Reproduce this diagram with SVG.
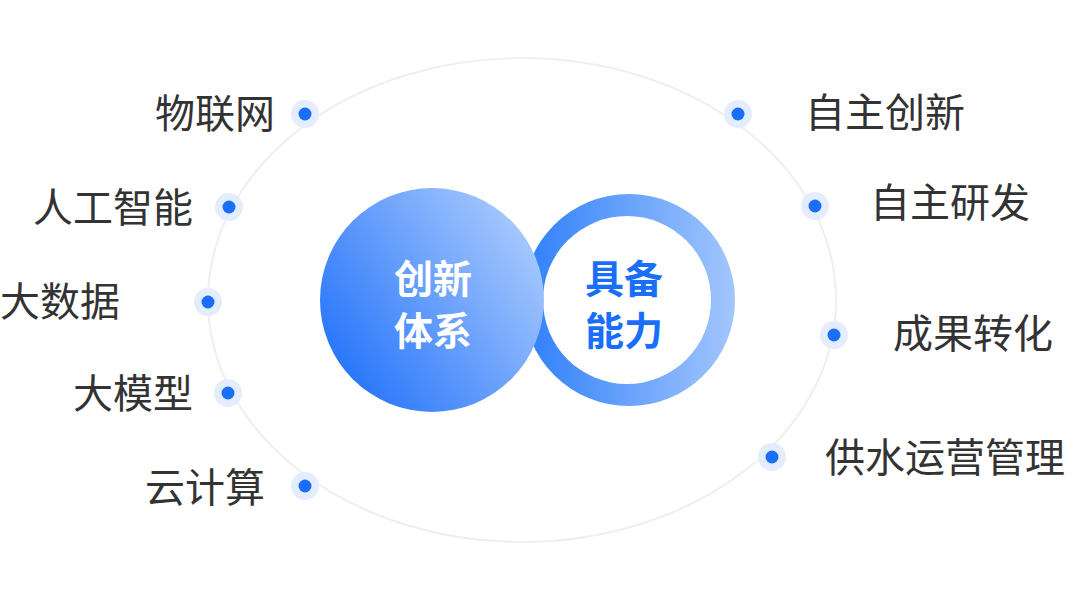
<svg xmlns="http://www.w3.org/2000/svg" width="1080" height="596" viewBox="0 0 1080 596">
<style>
.lbl{font-family:"Noto Sans CJK SC",sans-serif;font-size:40px;fill:#333;dominant-baseline:central}
.ctr{font-family:"Noto Sans CJK SC",sans-serif;font-size:39px;font-weight:bold;text-anchor:middle;dominant-baseline:central}
.halo{fill:#e3edfd}
.dot{fill:#1a6ffa}
</style>
<defs>
<linearGradient id="gL" x1="0" y1="1" x2="1" y2="0.3"><stop offset="0" stop-color="#1368fa"/><stop offset="1" stop-color="#a6c8fd"/></linearGradient>
<linearGradient id="gR" x1="0" y1="0" x2="1" y2="0"><stop offset="0" stop-color="#2e7ffa"/><stop offset="1" stop-color="#a3c6fd"/></linearGradient>
<g id="d"><circle r="14" class="halo"/><circle r="6.5" class="dot"/></g>
</defs>
<rect width="1080" height="596" fill="#fff"/>
<g id="connectors"><ellipse cx="522" cy="300" rx="314" ry="242" fill="none" stroke="#efefef" stroke-width="2"/></g>
<g id="ring"><circle cx="629" cy="300" r="106" fill="url(#gR)"/><circle cx="627" cy="300" r="84" fill="#fff"/>
<text class="ctr" x="624" y="276" fill="#1a6ffa">具备</text><text class="ctr" x="624" y="328" fill="#1a6ffa">能力</text></g>
<g id="core"><circle cx="432" cy="300" r="112" fill="url(#gL)"/>
<text class="ctr" x="433" y="276" fill="#fff">创新</text><text class="ctr" x="433" y="328" fill="#fff">体系</text></g>
<g id="n1"><use href="#d" x="305" y="114"/><text class="lbl" x="275" y="111" text-anchor="end">物联网</text></g>
<g id="n2"><use href="#d" x="229" y="207"/><text class="lbl" x="193" y="205" text-anchor="end">人工智能</text></g>
<g id="n3"><use href="#d" x="208" y="302"/><text class="lbl" x="120" y="299" text-anchor="end">大数据</text></g>
<g id="n4"><use href="#d" x="228" y="393"/><text class="lbl" x="193" y="391" text-anchor="end">大模型</text></g>
<g id="n5"><use href="#d" x="305" y="486"/><text class="lbl" x="265" y="485" text-anchor="end">云计算</text></g>
<g id="n6"><use href="#d" x="738" y="114"/><text class="lbl" x="805" y="110">自主创新</text></g>
<g id="n7"><use href="#d" x="815" y="206"/><text class="lbl" x="870" y="200">自主研发</text></g>
<g id="n8"><use href="#d" x="834" y="335"/><text class="lbl" x="893" y="331">成果转化</text></g>
<g id="n9"><use href="#d" x="772" y="457"/><text class="lbl" x="825" y="455">供水运营管理</text></g>
</svg>
